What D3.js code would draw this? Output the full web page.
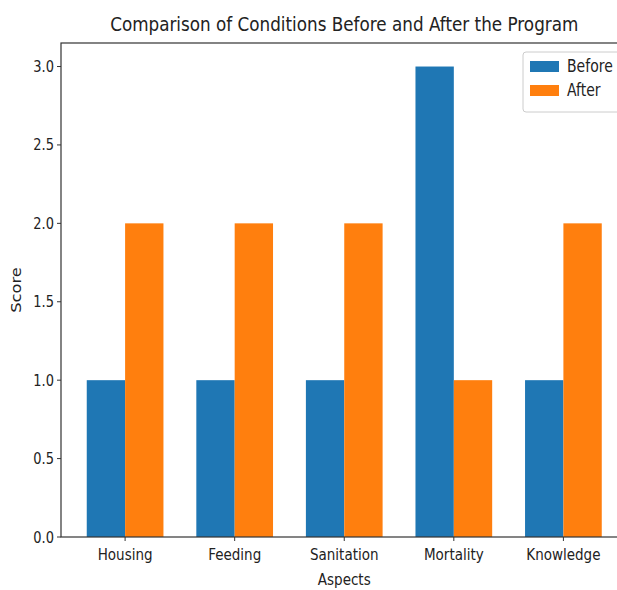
<!DOCTYPE html>
<meta charset="utf-8">
<style>
body { margin: 0; background: #fff; font-family: "DejaVu Sans", sans-serif; }
svg text { fill: #222; }
</style>
<body>
<script src="https://cdn.jsdelivr.net/npm/d3@7"></script>
<script>
var categories = ["Housing", "Feeding", "Sanitation", "Mortality", "Knowledge"];
var seriesNames = ["Before", "After"];
var before = [1, 1, 1, 3, 1];
var after = [2, 2, 2, 1, 2];
var yTicks = [0, 0.5, 1.0, 1.5, 2.0, 2.5, 3.0];
var colors = ["#1f77b4", "#ff7f0e"];

var width = 617, height = 590;
var mLeft = 61, mRight = 627.5, mTop = 43, mBottom = 537;
var barW = 0.35;
var stretch = 1.2; // text looks taller than wide in the reference

var svg = d3.select("body").append("svg")
  .attr("width", width).attr("height", height);

var x = d3.scaleLinear().domain([-0.585, 4.585]).range([mLeft, mRight]);
var y = d3.scaleLinear().domain([0, 3.15]).range([mBottom, mTop]);

var rows = categories.map(function(c, i) {
  return { cat: c, i: i, vals: [before[i], after[i]] };
});

// bars
rows.forEach(function(r) {
  r.vals.forEach(function(v, k) {
    var x0 = k === 0 ? r.i - barW : r.i;
    svg.append("rect")
      .attr("x", x(x0))
      .attr("y", y(v))
      .attr("width", x(x0 + barW) - x(x0))
      .attr("height", y(0) - y(v))
      .attr("fill", colors[k]);
  });
});

// stretched text helper
function label(g, px, py, size, txt, anchor, rot) {
  var t = "translate(" + px + "," + py + ")" + (rot ? " rotate(" + rot + ")" : "") +
    (rot ? " scale(" + stretch + ",1)" : " scale(1," + stretch + ")");
  return g.append("text").attr("transform", t)
    .attr("text-anchor", anchor || "middle")
    .style("font-size", size + "px").text(txt);
}

// y ticks
yTicks.forEach(function(v) {
  svg.append("line").attr("x1", mLeft - 4).attr("x2", mLeft)
    .attr("y1", y(v)).attr("y2", y(v)).attr("stroke", "#333");
  label(svg, mLeft - 7, y(v) + 5.5, 13, d3.format(".1f")(v), "end");
});

// x ticks
categories.forEach(function(c, i) {
  svg.append("line").attr("x1", x(i)).attr("x2", x(i))
    .attr("y1", mBottom).attr("y2", mBottom + 4).attr("stroke", "#333");
  label(svg, x(i), mBottom + 23, 13.5, c);
});

// spines
svg.append("rect")
  .attr("x", mLeft).attr("y", mTop)
  .attr("width", mRight - mLeft).attr("height", mBottom - mTop)
  .attr("fill", "none").attr("stroke", "#333").attr("stroke-width", 1.2);

// title & labels
label(svg, (mLeft + mRight) / 2, 31, 16.8, "Comparison of Conditions Before and After the Program");
label(svg, (mLeft + mRight) / 2, 585, 13.5, "Aspects");
label(svg, 21, (mTop + mBottom) / 2, 13.5, "Score", "middle", -90);

// legend
var lg = svg.append("g").attr("transform", "translate(523,52)");
lg.append("rect").attr("width", 98).attr("height", 60).attr("rx", 3)
  .attr("fill", "#fff").attr("fill-opacity", 0.8).attr("stroke", "#ccc");
seriesNames.forEach(function(n, k) {
  lg.append("rect").attr("x", 7).attr("y", 9 + k * 24).attr("width", 29).attr("height", 11)
    .attr("fill", colors[k]);
  label(lg, 44, 20 + k * 24, 14, n, "start");
});
</script>
</body>
